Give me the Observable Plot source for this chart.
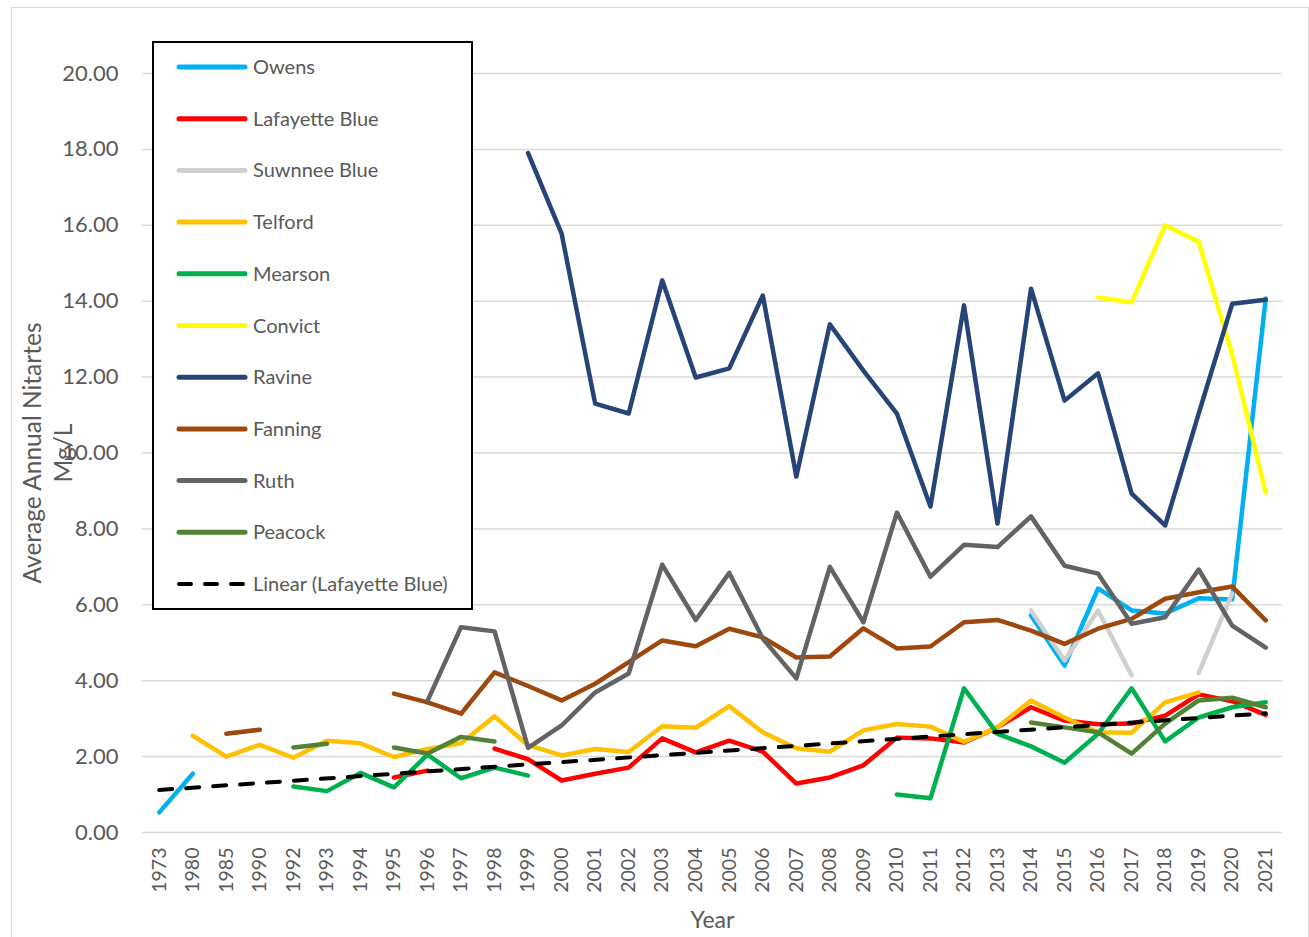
<!DOCTYPE html>
<html><head><meta charset="utf-8">
<script src="https://cdn.jsdelivr.net/npm/d3@7"></script>
<script src="https://cdn.jsdelivr.net/npm/@observablehq/plot@0.6"></script>
<style>
body{margin:0;background:#fff;font-family:Lato,"Open Sans",sans-serif;}
#wrap{position:relative;width:1309px;height:937px;overflow:hidden;}
#border{position:absolute;left:11px;top:7px;width:1298px;height:950px;border:1.5px solid #d9d9d9;box-sizing:border-box;pointer-events:none}
#legend{position:absolute;left:152px;top:41px;}
</style></head><body>
<div id="wrap"><div id="chart"></div><div id="border"></div><svg id="legend" width="322" height="570"></svg></div>
<script>
const years = ["1973","1980","1985","1990","1992","1993","1994","1995","1996","1997","1998","1999","2000","2001","2002","2003","2004","2005","2006","2007","2008","2009","2010","2011","2012","2013","2014","2015","2016","2017","2018","2019","2020","2021"];
const N = null;
const owens      = [0.53,1.55,N,N,N,N,N,N,N,N,N,N,N,N,N,N,N,N,N,N,N,N,N,N,N,N,5.72,4.40,6.43,5.85,5.77,6.17,6.14,14.07];
const lafayette  = [N,N,N,N,N,N,N,1.45,1.63,N,2.21,1.93,1.37,1.55,1.71,2.48,2.11,2.42,2.13,1.29,1.45,1.77,2.50,2.48,2.37,2.77,3.30,2.95,2.85,2.87,3.08,3.64,3.46,3.10];
const suwnnee    = [N,N,N,N,N,N,N,N,N,N,N,N,N,N,N,N,N,N,N,N,N,N,N,N,N,N,5.85,4.53,5.85,4.14,N,4.20,6.30,N];
const telford    = [N,2.55,2.00,2.31,1.97,2.42,2.35,1.99,2.20,2.35,3.06,2.30,2.03,2.20,2.12,2.80,2.76,3.33,2.64,2.22,2.13,2.69,2.86,2.79,2.39,2.77,3.48,3.03,2.64,2.63,3.43,3.69,N,N];
const mearson    = [N,N,N,N,1.21,1.09,1.57,1.19,2.05,1.43,1.71,1.50,N,N,N,N,N,N,N,N,N,N,1.00,0.90,3.80,2.60,2.27,1.84,2.60,3.80,2.40,3.03,3.30,3.43];
const convict    = [N,N,N,N,N,N,N,N,N,N,N,N,N,N,N,N,N,N,N,N,N,N,N,N,N,N,N,N,14.10,13.97,16.00,15.57,12.60,8.96];
const ravine     = [N,N,N,N,N,N,N,N,N,N,N,17.90,15.78,11.30,11.04,14.55,11.99,12.23,14.15,9.38,13.39,12.17,11.04,8.59,13.89,8.14,14.33,11.38,12.10,8.93,8.09,11.04,13.93,14.04];
const fanning    = [N,N,2.60,2.71,N,N,N,3.66,3.43,3.13,4.22,3.86,3.48,3.92,4.49,5.06,4.91,5.37,5.14,4.61,4.64,5.38,4.85,4.90,5.54,5.60,5.32,4.97,5.37,5.63,6.16,6.33,6.48,5.59];
const ruth       = [N,N,N,N,N,N,N,N,3.47,5.41,5.30,2.23,2.82,3.69,4.19,7.06,5.60,6.84,5.11,4.06,7.00,5.54,8.43,6.74,7.58,7.52,8.33,7.03,6.82,5.50,5.67,6.93,5.45,4.87];
const peacock    = [N,N,N,N,2.24,2.34,N,2.24,2.08,2.52,2.40,N,N,N,N,N,N,N,N,N,N,N,N,N,N,N,2.90,2.77,2.64,2.08,2.87,3.48,3.55,3.30];
const trendYears  = ["1973","2021"];
const trendValues = [1.12, 3.14];
const seriesNames  = ["Owens","Lafayette Blue","Suwnnee Blue","Telford","Mearson","Convict","Ravine","Fanning","Ruth","Peacock"];
const seriesColors = ["#00B0F0","#FF0000","#D0D0D0","#FFC000","#00B050","#FFFF00","#264478","#9E480E","#636363","#548235"];
const seriesValues = [owens,lafayette,suwnnee,telford,mearson,convict,ravine,fanning,ruth,peacock];
const trendName = "Linear (Lafayette Blue)";
const yTicks = d3.range(0, 21, 2);

const lineMarks = seriesValues.map((vals, k) =>
  Plot.line(years.map((yr, i) => ({year: yr, value: vals[i]})), {
    x: "year", y: "value", stroke: seriesColors[k], strokeWidth: 4.5,
    strokeLinecap: "round", strokeLinejoin: "round"
  }));

const trendData = trendYears.map((yr, i) => ({year: yr, value: trendValues[i]}));

const chart = Plot.plot({
  width: 1309, height: 937,
  marginLeft: 142, marginRight: 27, marginTop: 73, marginBottom: 105,
  style: {fontFamily: "Lato, 'Open Sans', sans-serif", color: "#595959", background: "transparent"},
  x: {type: "point", domain: years, padding: 0.5, round: false},
  y: {domain: [0, 20]},
  marks: [
    Plot.ruleY(yTicks, {stroke: "#d9d9d9", strokeWidth: 1.5}),
    Plot.axisY({ticks: yTicks, tickFormat: d3.format(".2f"), tickSize: 0, tickPadding: 24, fontSize: 22, label: null}),
    Plot.axisX({tickRotate: -90, tickSize: 0, tickPadding: 15, fontSize: 19.5, label: "Year", labelAnchor: "center", labelOffset: 95, labelArrow: "none"}),
    Plot.text(["Average Annual Nitartes\nMg/L"], {text: d => d, frameAnchor: "left", textAnchor: "middle", lineAnchor: "middle", dx: -96, rotate: -90, fontSize: 24.5, lineHeight: 1.27, fill: "#595959"}),
    ...lineMarks,
    Plot.line(trendData, {x: "year", y: "value", stroke: "#000", strokeWidth: 4, strokeDasharray: "13,14", strokeLinecap: "round"})
  ]
});
chart.querySelectorAll("[aria-label='x-axis label'] text, [aria-label='x-axis label']").forEach(e => e.setAttribute("font-size", 23));
document.getElementById("chart").appendChild(chart);

// legend
const lg = d3.select("#legend");
lg.append("rect").attr("x", 1).attr("y", 1).attr("width", 319).attr("height", 567)
  .attr("fill", "#fff").attr("stroke", "#000").attr("stroke-width", 2);
const entries = seriesNames.map((n, k) => ({name: n, color: seriesColors[k], dash: null}))
  .concat([{name: trendName, color: "#000", dash: "12,14"}]);
entries.forEach((e, i) => {
  const y = 26 + 51.7 * i;
  lg.append("line").attr("x1", 27).attr("x2", 93).attr("y1", y).attr("y2", y)
    .attr("stroke", e.color).attr("stroke-width", e.dash ? 4 : 5).attr("stroke-linecap", "round")
    .attr("stroke-dasharray", e.dash);
  lg.append("text").attr("x", 101).attr("y", y).attr("dy", "0.35em")
    .attr("font-size", 20).attr("fill", "#595959").attr("font-family", "Lato, 'Open Sans', sans-serif")
    .text(e.name);
});
</script>
</body></html>
